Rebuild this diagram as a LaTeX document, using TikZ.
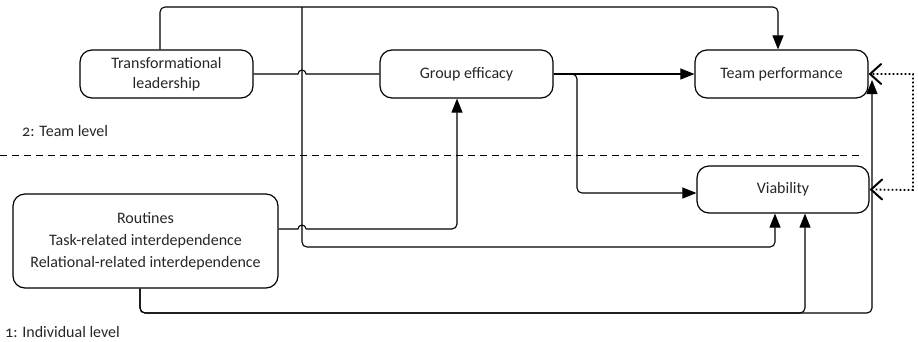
\documentclass[tikz,border=0pt]{standalone}
\usepackage{fontspec}
\setmainfont{Carlito}[Numbers=OldStyle]
\usetikzlibrary{arrows.meta}
\begin{document}
\begin{tikzpicture}[x=1pt,y=-1pt,
  box/.style={draw, rounded corners=12pt, line width=1.2pt, align=center, inner sep=0pt,
    text=black!85, font=\fontsize{16}{20}\selectfont, minimum width=173pt, minimum height=48pt},
  conn/.style={line width=1.1pt, rounded corners=5pt},
  tip/.style={-{Triangle[length=14pt,width=11pt]}},
  barb/.style={solid, line width=2pt, line cap=round},
  lbl/.style={anchor=west, inner sep=0pt, text=black!85, font=\fontsize{16}{18}\selectfont}]
\useasboundingbox (0,0) rectangle (918,341);

% nodes
\node[box] (TL) at (166.5,74) {Transformational\\leadership};
\node[box] (GE) at (466.5,74) {Group efficacy};
\node[box] (TP) at (781.5,74) {Team performance};
\node[box, minimum width=172pt, minimum height=47pt] (V) at (783,189.5) {Viability};
\node[box, minimum width=265pt, minimum height=94pt, font=\fontsize{16}{22}\selectfont] (R) at (145.5,241)
  {Routines\\Task-related interdependence\\Relational-related interdependence};

\node[lbl] (L2) at (22,131) {2: Team level};
\node[lbl] (L1) at (5,332) {1: Individual level};

% level separator
\draw[line width=1pt, dash pattern=on 7pt off 5pt] (0,155) -- (863,155);

% coordinates
\coordinate (J) at (302,7);
\coordinate (TPr) at (872,80);

% Transformational leadership -> Team performance (top route)
\draw[conn, tip] ([xshift=-6.5pt]TL.north) -- (160,7) -- (778,7) -- ([xshift=-3.5pt]TP.north);
% branch down to Viability
\draw[conn, tip] (J) -- (302,247) -- (775,247) -- ([xshift=-8pt]V.south);

% Transformational leadership -- Group efficacy (with hop)
\draw[line width=1.1pt] (TL.east) -- (298,74) arc[start angle=180, end angle=0, radius=4pt] -- (GE.west);

% Group efficacy -> Team performance / Viability
\draw[conn, tip] (GE.east) -- (TP.west);
\draw[conn, tip] (GE.east) -- (577,74) -- (577,193) -- ([yshift=-3.5pt]V.west);

% Routines -> Group efficacy (with hop)
\draw[line width=1.1pt] ([yshift=12pt]R.east) -- (298,229) arc[start angle=180, end angle=0, radius=4pt] -- (306,229);
\draw[conn, tip] (306,229) -- (457,229) -- ([xshift=-9.5pt]GE.south);

% Routines -> Viability / Team performance
\draw[conn, tip] ([xshift=-5.5pt]R.south) -- (140,313) -- (805,313) -- ([xshift=22pt]V.south);
\draw[conn, tip] ([xshift=-5.5pt]R.south) -- (140,313) -- (872,313) -- (TPr);

% feedback (dotted, open arrow heads at both ends)
\draw[line width=1.8pt, dash pattern=on 1.8pt off 2.2pt, shorten <=4pt, shorten >=4pt] (TP.east) -- (913,74) -- (913,190) -- (V.east);
\draw[barb] ([xshift=1.5pt]TP.east) ++(11,-10) -- ++(-11,10) -- ++(11,10);
\draw[barb] ([xshift=1.5pt]V.east) ++(11,-10) -- ++(-11,10) -- ++(11,10);
\end{tikzpicture}
\end{document}
